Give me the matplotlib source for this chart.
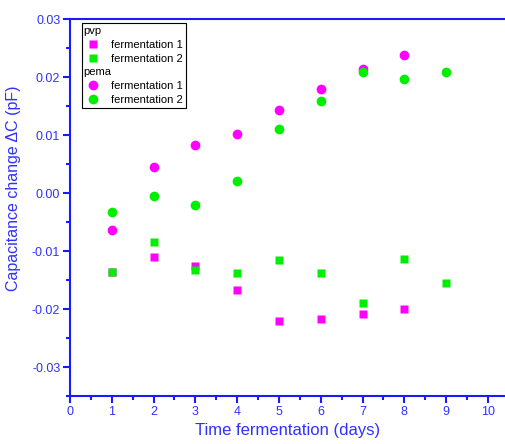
import numpy as np
import matplotlib
matplotlib.use("Agg")
import matplotlib.pyplot as plt
from matplotlib.lines import Line2D
from matplotlib.transforms import ScaledTranslation

plt.rcParams['font.family'] = ['Liberation Sans', 'DejaVu Sans']

# pvp samples (squares)
days_pvp1 = [1, 2, 3, 4, 5, 6, 7, 8]
pvp_ferm1 = [-0.0136, -0.0110, -0.0125, -0.0167, -0.0220, -0.0218, -0.0208, -0.0200]
days_pvp2 = [1, 2, 3, 4, 5, 6, 7, 8, 9]
pvp_ferm2 = [-0.0136, -0.0085, -0.0132, -0.0138, -0.0116, -0.0138, -0.0190, -0.0114, -0.0156]

# pema samples (circles)
days_pema1 = [1, 2, 3, 4, 5, 6, 7, 8]
pema_ferm1 = [-0.0064, 0.0044, 0.0082, 0.0101, 0.0143, 0.0179, 0.0213, 0.0238]
days_pema2 = [1, 2, 3, 4, 5, 6, 7, 8, 9]
pema_ferm2 = [-0.0032, -0.0005, -0.0021, 0.0020, 0.0111, 0.0159, 0.0209, 0.0196, 0.0209]

magenta = '#FF00FF'
green = '#00EE00'
blue = '#1A1AFF'
txtblue = '#3030FF'

fig = plt.figure(figsize=(5.05, 4.44), dpi=100)
ax = fig.add_axes([70/505, 48/444, 1 - 70/505, 377/444])

ax.plot(days_pvp1, pvp_ferm1, 's', color=magenta, ms=6, mec='none')
ax.plot(days_pvp2, pvp_ferm2, 's', color=green, ms=6, mec='none')
ax.plot(days_pema1, pema_ferm1, 'o', color=magenta, ms=7, mec='none')
ax.plot(days_pema2, pema_ferm2, 'o', color=green, ms=7, mec='none')

ax.set_xlim(0, 10.41)
ax.set_ylim(-0.035, 0.03)
ax.set_xticks(np.arange(0, 11, 1))
ax.set_xticks(np.arange(0.5, 10.5, 1), minor=True)
ax.set_yticks([-0.03, -0.02, -0.01, 0.0, 0.01, 0.02, 0.03])
ax.set_yticks(np.arange(-0.035, 0.03, 0.01), minor=True)
ax.yaxis.set_major_formatter(matplotlib.ticker.FormatStrFormatter('%.2f'))

for side in ['left', 'bottom', 'top']:
    ax.spines[side].set_color(blue)
    ax.spines[side].set_linewidth(1.5)
ax.spines['right'].set_visible(False)
ax.tick_params(which='major', direction='out', length=5, width=1.5, color=blue,
               labelcolor=txtblue, labelsize=9, pad=2)
ax.tick_params(which='minor', direction='out', length=3, width=1.5, color=blue)

ax.set_xlabel('Time fermentation (days)', fontsize=12, color=txtblue, labelpad=4)
ax.set_ylabel('Capacitance change \u0394C (pF)', fontsize=11.5, color=txtblue)
ax.yaxis.set_label_coords(-0.112, 0.55)

blank = Line2D([], [], linestyle='none', marker='none')
handles = [blank,
           Line2D([], [], ls='none', marker='s', color=magenta, ms=6, mec='none'),
           Line2D([], [], ls='none', marker='s', color=green, ms=6, mec='none'),
           blank,
           Line2D([], [], ls='none', marker='o', color=magenta, ms=7, mec='none'),
           Line2D([], [], ls='none', marker='o', color=green, ms=7, mec='none')]
labels = ['pvp', 'fermentation 1', 'fermentation 2', 'pema', 'fermentation 1', 'fermentation 2']
leg = ax.legend(handles, labels, loc='upper left', bbox_to_anchor=(0.022, 0.995),
                fontsize=8, frameon=True, fancybox=False, edgecolor='black',
                framealpha=1, borderpad=0.3, labelspacing=0.33, handlelength=1.5,
                handletextpad=0.8, borderaxespad=0.2)
leg.get_frame().set_linewidth(0.8)
texts = leg.get_texts()
for i in (0, 3):
    t = texts[i]
    t.set_transform(t.get_transform() + ScaledTranslation(-0.27, 0, fig.dpi_scale_trans))

fig.savefig('out.png', dpi=100)
